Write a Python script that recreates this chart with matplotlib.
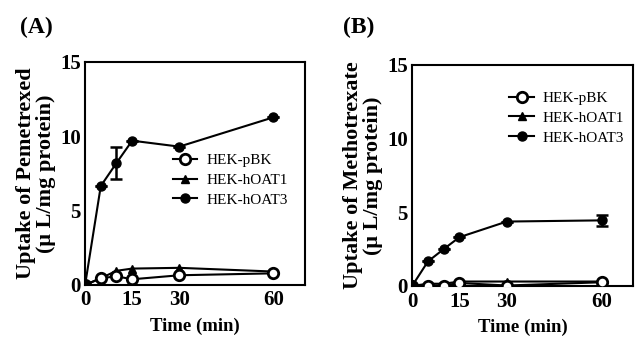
import matplotlib
matplotlib.use('Agg')
import matplotlib.pyplot as plt

plt.rcParams['font.family'] = ['Liberation Serif', 'DejaVu Serif']

# time points (min)
time = [0, 5, 10, 15, 30, 60]
series_names = ['HEK-pBK', 'HEK-hOAT1', 'HEK-hOAT3']

# (A) pemetrexed uptake
pem_pbk = [0, 0.45, 0.58, 0.38, 0.65, 0.78]
pem_oat1 = [0, 0.45, 0.95, 1.1, 1.15, 0.9]
pem_oat3 = [0, 6.65, 8.2, 9.7, 9.3, 11.27]
pem_oat3_err = [0, 0, 1.05, 0, 0, 0]

# (B) methotrexate uptake
mtx_pbk = [0, 0.03, 0.03, 0.2, 0.03, 0.25]
mtx_oat1 = [0, 0.15, 0.15, 0.3, 0.3, 0.3]
mtx_oat3 = [0, 1.66, 2.5, 3.31, 4.37, 4.45]
mtx_oat3_err = [0, 0, 0, 0, 0, 0.35]

fig = plt.figure(figsize=(6.35, 3.38), dpi=100)
ax_a = fig.add_axes([0.134, 0.157, 0.346, 0.66])
ax_b = fig.add_axes([0.649, 0.154, 0.348, 0.654])


def draw_panel(ax, pbk, oat1, oat3, oat3_err, ylabel, legend_pos):
    h1, = ax.plot(time, pbk, '-o', color='black', mfc='white', mec='black',
                  mew=2, ms=7.5, lw=1.5, zorder=3)
    h2, = ax.plot(time, oat1, '-^', color='black', ms=6, lw=1.5, zorder=2)
    ax.errorbar(time, oat3, yerr=oat3_err, fmt='none', ecolor='black',
                elinewidth=1.8, capsize=4, capthick=1.8, zorder=4)
    h3, = ax.plot(time, oat3, '-o', color='black', ms=6.5, lw=1.5, zorder=4)
    ax.set_xlim(0, 70)
    ax.set_ylim(0, 15)
    ax.set_xticks([0, 15, 30, 60])
    ax.set_yticks([0, 5, 10, 15])
    ax.tick_params(length=0, labelsize=15)
    ax.tick_params(axis='y', pad=3)
    ax.tick_params(axis='x', pad=4)
    for lab in ax.get_xticklabels() + ax.get_yticklabels():
        lab.set_fontweight('bold')
    for sp in ax.spines.values():
        sp.set_linewidth(1.5)
    ax.set_xlabel('Time (min)', fontsize=13.5, fontweight='bold', labelpad=5)
    ax.set_ylabel(ylabel, fontsize=16, fontweight='bold', labelpad=3,
                  linespacing=1.0)
    ax.legend([h1, h2, h3], series_names, loc='center',
              bbox_to_anchor=legend_pos, frameon=False, fontsize=11,
              handlelength=1.6, handletextpad=0.6, labelspacing=0.4)


draw_panel(ax_a, pem_pbk, pem_oat1, pem_oat3, pem_oat3_err,
           'Uptake of Pemetrexed\n(\u03bc L/mg protein)', (0.66, 0.47))
draw_panel(ax_b, mtx_pbk, mtx_oat1, mtx_oat3, mtx_oat3_err,
           'Uptake of Methotrexate\n(\u03bc L/mg protein)', (0.7, 0.76))

fig.text(36 / 635, 1 - 27 / 338, '(A)', fontsize=17, fontweight='bold',
         ha='center', va='center')
fig.text(359 / 635, 1 - 27 / 338, '(B)', fontsize=17, fontweight='bold',
         ha='center', va='center')

fig.savefig('out.png', dpi=100)
